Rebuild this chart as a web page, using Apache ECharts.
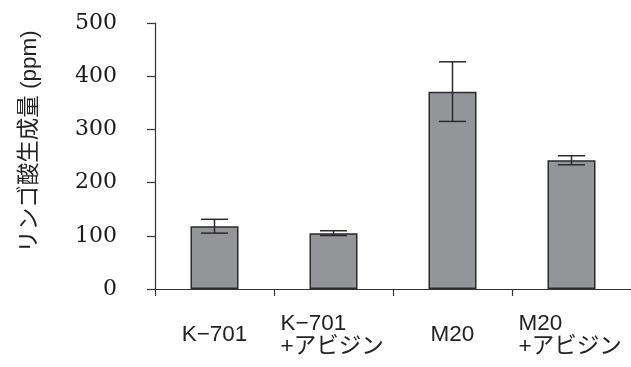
<!DOCTYPE html>
<html>
<head>
<meta charset="utf-8">
<script src="https://cdn.jsdelivr.net/npm/echarts@6/dist/echarts.min.js"></script>
<style>
html,body{margin:0;padding:0;background:#fff;}
#c{width:631px;height:367px;}
</style>
</head>
<body>
<div id="c"></div>
<script>
const categories = ['K−701', 'K−701\n+アビジン', 'M20', 'M20\n+アビジン'];
const values = [118, 105, 371, 242];
const errors = [13, 4.5, 56, 8.5];
const yTicks = [0, 100, 200, 300, 400, 500];
const yTitle = 'リンゴ酸生成量 (ppm)';

const chart = echarts.init(document.getElementById('c'), null, {renderer: 'canvas'});
const sansFont = '"Liberation Sans", "Noto Sans CJK JP", sans-serif';

chart.setOption({
  animation: false,
  backgroundColor: '#ffffff',
  grid: {left: 155, right: 0, top: 23, bottom: 78, containLabel: false},
  xAxis: {
    type: 'category',
    data: categories,
    boundaryGap: true,
    axisLine: {lineStyle: {color: '#333', width: 1.2}},
    axisTick: {show: true, inside: false, length: 7, lineStyle: {color: '#333', width: 1.2}},
    axisLabel: {
      interval: 0,
      margin: 46,
      verticalAlign: 'middle',
      formatter: function (v) {
        if (v.indexOf('\n') >= 0) {
          return v.split('\n').map(s => '{l|' + s + '}').join('\n');
        }
        return '{c|' + v + '}';
      },
      rich: {
        l: {width: 106, align: 'left', fontSize: 22.5, lineHeight: 23, color: '#222', fontFamily: sansFont},
        c: {fontSize: 22.5, lineHeight: 23, color: '#222', fontFamily: sansFont}
      }
    }
  },
  yAxis: {
    type: 'value',
    min: yTicks[0],
    max: yTicks[yTicks.length - 1],
    interval: 100,
    splitLine: {show: false},
    axisLine: {show: true, lineStyle: {color: '#333', width: 1.2}},
    axisTick: {show: true, inside: false, length: 8, lineStyle: {color: '#333', width: 1.2}},
    axisLabel: {
      margin: 38,
      fontSize: 22,
      color: '#1a1a1a',
      fontFamily: '"DejaVu Serif", "Liberation Serif", serif'
    },
    name: yTitle,
    nameLocation: 'middle',
    nameRotate: 90,
    nameGap: 114,
    nameTextStyle: {
      fontSize: 22.5,
      color: '#222',
      fontFamily: sansFont,
      padding: [0, 0, 0, 29]
    }
  },
  series: [
    {
      type: 'bar',
      data: values,
      barWidth: 48,
      itemStyle: {color: '#939598', borderColor: '#2a2a2a', borderWidth: 1.5},
      z: 2
    },
    {
      type: 'custom',
      data: values.map((v, i) => [i, v - errors[i], v + errors[i]]),
      z: 3,
      renderItem: function (params, api) {
        const lo = api.coord([api.value(0), api.value(1)]);
        const hi = api.coord([api.value(0), api.value(2)]);
        const hw = 13.5;
        const style = {stroke: '#2a2a2a', lineWidth: 1.5};
        return {
          type: 'group',
          children: [
            {type: 'line', shape: {x1: lo[0], y1: lo[1], x2: hi[0], y2: hi[1]}, style: style},
            {type: 'line', shape: {x1: lo[0] - hw, y1: lo[1], x2: lo[0] + hw, y2: lo[1]}, style: style},
            {type: 'line', shape: {x1: hi[0] - hw, y1: hi[1], x2: hi[0] + hw, y2: hi[1]}, style: style}
          ]
        };
      }
    }
  ]
});
</script>
</body>
</html>
